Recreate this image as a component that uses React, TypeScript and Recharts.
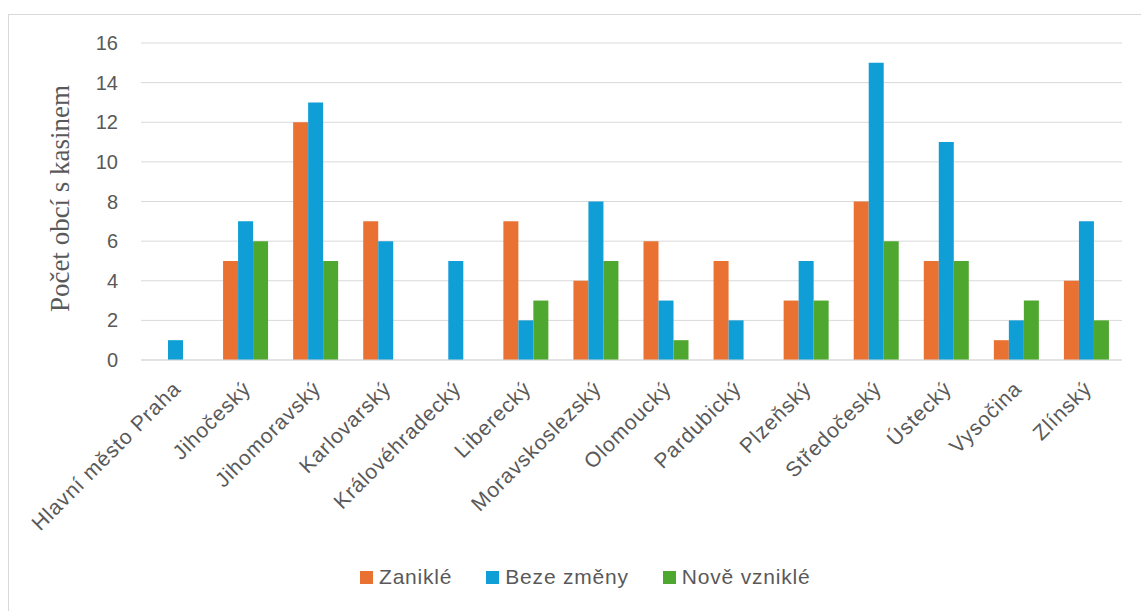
import { BarChart, Bar, XAxis, YAxis, CartesianGrid, Legend } from 'recharts';

const categories = [
  'Hlavní město Praha',
  'Jihočeský',
  'Jihomoravský',
  'Karlovarský',
  'Královéhradecký',
  'Liberecký',
  'Moravskoslezský',
  'Olomoucký',
  'Pardubický',
  'Plzeňský',
  'Středočeský',
  'Ústecký',
  'Vysočina',
  'Zlínský',
];
const zanikle = [0, 5, 12, 7, 0, 7, 4, 6, 5, 3, 8, 5, 1, 4];
const bezeZmeny = [1, 7, 13, 6, 5, 2, 8, 3, 2, 5, 15, 11, 2, 7];
const noveVznikle = [0, 6, 5, 0, 0, 3, 5, 1, 0, 3, 6, 5, 3, 2];
const yTicks = [0, 2, 4, 6, 8, 10, 12, 14, 16];
const seriesOrder = ['zanikle', 'bezeZmeny', 'noveVznikle'];

const data = categories.map((name, i) => ({
  name,
  zanikle: zanikle[i],
  bezeZmeny: bezeZmeny[i],
  noveVznikle: noveVznikle[i],
}));

const FONT = '"Liberation Sans", Arial, sans-serif';
const TEXT = '#595959';

function AngledTick({ x, y, payload }: any) {
  return (
    <g transform={`translate(${x + 6},${y + 22})`}>
      <text
        x={0}
        y={0}
        textAnchor="end"
        transform="rotate(-45)"
        fill={TEXT}
        fontSize={21}
        letterSpacing={0.9}
        fontFamily={FONT}
      >
        {payload.value}
      </text>
    </g>
  );
}

function LegendContent({ payload }: any) {
  return (
    <div style={{ display: 'flex', alignItems: 'center', fontFamily: FONT, fontSize: 21, letterSpacing: 0.8, color: TEXT }}>
      {payload.map((item: any, i: number) => (
        <div key={i} style={{ display: 'flex', alignItems: 'center', marginRight: 34 }}>
          <span style={{ width: 13, height: 13, background: item.color, display: 'inline-block', marginRight: 6 }} />
          <span>{item.value}</span>
        </div>
      ))}
    </div>
  );
}

export default function App() {
  return (
    <div style={{ position: 'absolute', left: 0, top: 0, width: 1141, height: 611, overflow: 'hidden', background: '#fff' }}>
      <div
        style={{
          position: 'absolute',
          left: 8,
          top: 14,
          width: 1200,
          height: 700,
          border: '1px solid #d9d9d9',
        }}
      />
      <div style={{ position: 'absolute', left: 0, top: 0 }}>
        <BarChart
          width={1141}
          height={611}
          data={data}
          margin={{ top: 43, right: 19, left: 0, bottom: 0 }}
          barCategoryGap={12}
          barGap={0}
        >
          <CartesianGrid vertical={false} stroke="#d9d9d9" />
          <XAxis
            dataKey="name"
            interval={0}
            height={251}
            tickLine={false}
            axisLine={{ stroke: '#d9d9d9' }}
            tick={<AngledTick />}
          />
          <YAxis
            width={141}
            domain={[0, 16]}
            ticks={yTicks}
            tickLine={false}
            axisLine={false}
            tickMargin={17}
            tick={{ fill: TEXT, fontSize: 20, fontFamily: FONT }}
            label={
              <text
                x={68}
                y={201}
                textAnchor="middle"
                transform="rotate(-90, 68, 201)"
                fill={TEXT}
                fontSize={27}
                fontFamily='"Liberation Serif", "Times New Roman", serif'
              >
                Počet obcí s kasinem
              </text>
            }
          />
          <Legend
            layout="horizontal"
            verticalAlign="middle"
            align="center"
            itemSorter={(item: any) => seriesOrder.indexOf(item.dataKey)}
            wrapperStyle={{ top: 565, left: 360, width: 'auto' }}
            content={<LegendContent />}
          />
          <Bar dataKey="zanikle" name="Zaniklé" fill="#E97132" isAnimationActive={false} />
          <Bar dataKey="bezeZmeny" name="Beze změny" fill="#0F9ED5" isAnimationActive={false} />
          <Bar dataKey="noveVznikle" name="Nově vzniklé" fill="#4EA72E" isAnimationActive={false} />
        </BarChart>
      </div>
    </div>
  );
}
